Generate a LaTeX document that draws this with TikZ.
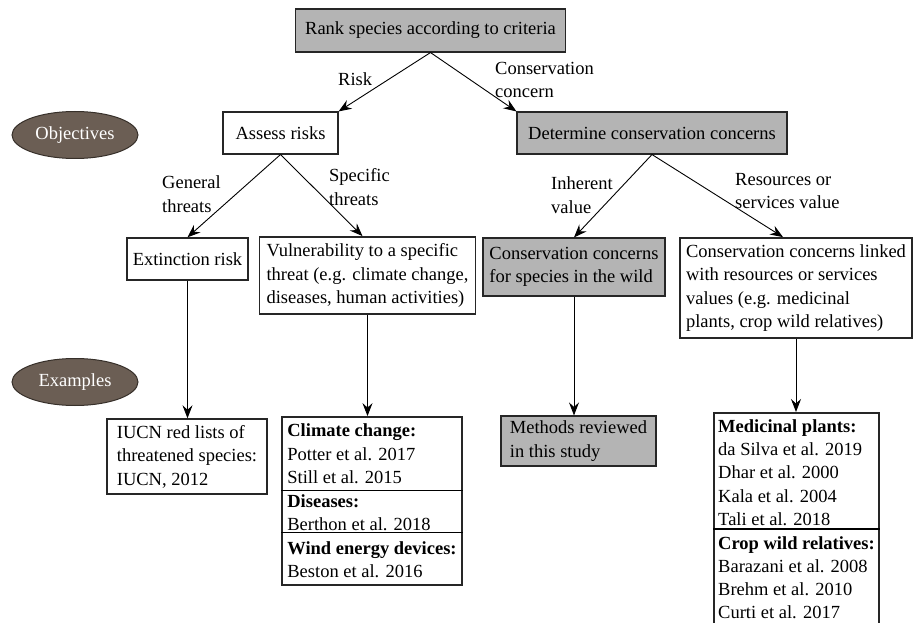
\documentclass[tikz,border=0pt]{standalone}
\usepackage{fontspec}
\setmainfont{Liberation Serif}
\usetikzlibrary{arrows.meta,shapes.geometric,calc}
\definecolor{boxgray}{RGB}{180,180,180}
\definecolor{ovalfill}{RGB}{107,94,84}
\definecolor{ovaldraw}{RGB}{55,48,42}
\tikzset{
  txt/.style={font=\fontsize{18.5pt}{23.5pt}\selectfont},
  box/.style={txt, draw=black!85, line width=1.1pt, align=left, inner xsep=4pt, inner ysep=3pt},
  thickbox/.style={box, line width=1.8pt},
  graybox/.style={box, fill=boxgray},
  oval/.style={txt, ellipse, fill=ovalfill, draw=ovaldraw, line width=1pt, text=white, minimum width=126pt, minimum height=47pt, inner sep=1pt},
  lbl/.style={txt, align=left, inner sep=0pt, anchor=west},
  conn/.style={line width=0.9pt, -{Stealth[length=13pt,width=10pt,inset=4.5pt]}},
}
\begin{document}
\begin{tikzpicture}[x=1pt,y=-1pt]
\useasboundingbox (0,0) rectangle (916,623);
% ellipses
\node[oval] (obj) at (75,135) {Objectives};
\node[oval] (ex) at (75,382) {Examples};
% boxes
\node[graybox, minimum width=270pt, minimum height=43pt, align=center] (rank) at (430.5,30.5) {Rank species according to criteria};
\node[box, minimum width=115pt, minimum height=42pt] (assess) at (280.5,133) {Assess risks};
\node[graybox, minimum width=270pt, minimum height=42pt] (determine) at (652,133) {Determine conservation concerns};
\node[box, line width=1.4pt, minimum width=121pt, minimum height=42pt] (extinct) at (187.5,259) {Extinction risk};
\node[thickbox, minimum width=216pt, minimum height=77pt] (vuln) at (367.5,275.5) {Vulnerability to a specific\\threat (e.g. climate change,\\diseases, human activities)};
\node[graybox, minimum width=182pt, minimum height=58pt] (wild) at (574,267) {Conservation concerns\\for species in the wild};
\node[thickbox, minimum width=232pt, minimum height=100pt] (resources) at (796,288) {Conservation concerns linked\\with resources or services\\values (e.g. medicinal\\plants, crop wild relatives)};
\node[box, line width=1.4pt, minimum width=160pt, minimum height=75pt] (iucn) at (187,456.5) {IUCN red lists of\\threatened species:\\IUCN, 2012};
\node[thickbox, minimum width=180pt, minimum height=168pt] (climate) at (372,501) {\textbf{Climate change:}\\Potter et al. 2017\\Still et al. 2015\\\textbf{Diseases:}\\Berthon et al. 2018\\\textbf{Wind energy devices:}\\Beston et al. 2016};
\node[graybox, minimum width=155pt, minimum height=50pt] (methods) at (578.5,441) {Methods reviewed\\in this study};
\node[thickbox, minimum width=165pt, anchor=north, inner ysep=7pt, font=\fontsize{18.5pt}{23.1pt}\selectfont] (medicinal) at (796.5,412) {\textbf{Medicinal plants:}\\da Silva et al. 2019\\Dhar et al. 2000\\Kala et al. 2004\\Tali et al. 2018\\[1pt]\textbf{Crop wild relatives:}\\Barazani et al. 2008\\Brehm et al. 2010\\Curti et al. 2017\rule[-40pt]{0pt}{40pt}};
% dividers
\draw[line width=1.1pt] ([yshift=-74pt]climate.north west) -- ([yshift=-74pt]climate.north east);
\draw[line width=1.1pt] ([yshift=-116pt]climate.north west) -- ([yshift=-116pt]climate.north east);
\draw[line width=1.1pt] ([yshift=-117pt]medicinal.north west) -- ([yshift=-117pt]medicinal.north east);
% labels
\node[lbl] (lrisk) at (338,79) {Risk};
\node[lbl] (lcons) at (495,80) {Conservation\\concern};
\node[lbl] (lgen) at (162,194) {General\\threats};
\node[lbl] (lspec) at (329,187) {Specific\\threats};
\node[lbl] (linh) at (551,195) {Inherent\\value};
\node[lbl] (lres) at (735,191) {Resources or\\services value};
% connectors
\draw[conn] (rank.south) -- (assess.north east);
\draw[conn] (rank.south) -- (determine.north west);
\draw[conn] (assess.south) -- (extinct.north);
\draw[conn] (assess.south) -- ([xshift=-5pt]vuln.north);
\draw[conn] (determine.south) -- (wild.north);
\draw[conn] (determine.south) -- ([xshift=-13pt]resources.north);
\draw[conn] (extinct.south) -- (extinct.south |- iucn.north);
\draw[conn] (vuln.south) -- (vuln.south |- climate.north);
\draw[conn] (wild.south) -- (wild.south |- methods.north);
\draw[conn] (resources.south) -- (resources.south |- medicinal.north);
\end{tikzpicture}
\end{document}
